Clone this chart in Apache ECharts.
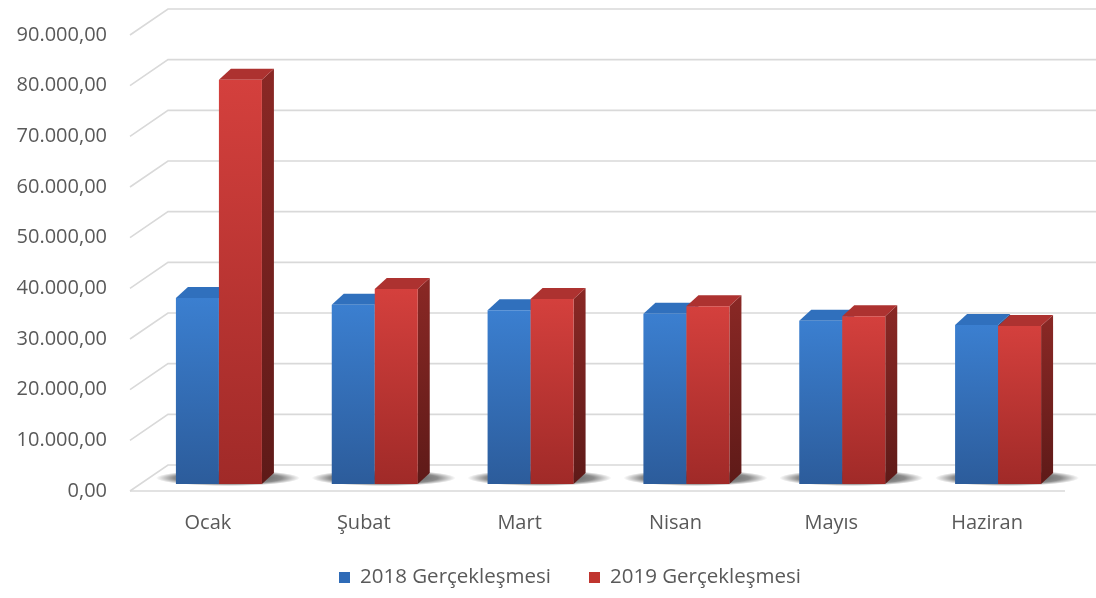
<!DOCTYPE html>
<html>
<head>
<meta charset="utf-8">
<script src="https://cdn.jsdelivr.net/npm/echarts@6/dist/echarts.min.js"></script>
<style>
  html, body { margin: 0; padding: 0; background: #fff; }
  #main { width: 1096px; height: 598px; }
</style>
</head>
<body>
<div id="main"></div>
<script>
var myChart = echarts.init(document.getElementById('main'));

var categories = ['Ocak', 'Şubat', 'Mart', 'Nisan', 'Mayıs', 'Haziran'];
var seriesNames = ['2018 Gerçekleşmesi', '2019 Gerçekleşmesi'];
var values2018 = [36700, 35400, 34300, 33600, 32200, 31400];
var values2019 = [79800, 38500, 36500, 35100, 33100, 31200];
var yTicks = [0, 10000, 20000, 30000, 40000, 50000, 60000, 70000, 80000, 90000];

// depth of the back wall and of the bar plane (pseudo 3D)
var WALL_DX = 38, WALL_DY = -26;
var BAR_DY = -7;
var DEPTH_DX = 12, DEPTH_DY = -11;
var BAR_W = 43;

function trNumber(v) {
    var s = String(Math.round(v));
    var out = '';
    for (var i = 0; i < s.length; i++) {
        if (i > 0 && (s.length - i) % 3 === 0) out += '.';
        out += s[i];
    }
    return out + ',00';
}

function vGrad(c1, c2) {
    return new echarts.graphic.LinearGradient(0, 0, 0, 1, [
        {offset: 0, color: c1},
        {offset: 1, color: c2}
    ]);
}

var palette = [
    {front: ['#3b7fd0', '#2c5c9b'], top: '#3070bd', side: ['#27528a', '#1d3f6c']},
    {front: ['#d4403d', '#a02a28'], top: '#ad3230', side: ['#8a2825', '#5e1a18']}
];

var gridRender = function (params, api) {
    var cs = params.coordSys;
    var y = api.coord([0, api.value(1)])[1];
    var left = cs.x, right = cs.x + cs.width;
    var children = [{
        type: 'polyline',
        shape: {points: [[left, y], [left + WALL_DX, y + WALL_DY], [right + WALL_DX, y + WALL_DY]]},
        style: {stroke: '#d9d9d9', lineWidth: 1.6, fill: null}
    }];
    if (api.value(1) === 0) {
        children.push({
            type: 'line',
            shape: {x1: left, y1: y, x2: right, y2: y},
            style: {stroke: '#d9d9d9', lineWidth: 1.6}
        });
    }
    return {type: 'group', children: children};
};

function barRender(idx) {
    return function (params, api) {
        var base = api.coord([api.value(0), 0]);
        var top = api.coord([api.value(0), api.value(1)]);
        var cx = base[0];
        var x0 = idx === 0 ? cx - 32 : cx + 11;
        var x1 = x0 + BAR_W;
        var yb = base[1] + BAR_DY;
        var yt = top[1] + BAR_DY;
        var p = palette[idx];
        var children = [];
        if (idx === 0) {
            // soft floor shadow behind the pair of bars
            children.push({
                type: 'circle',
                x: cx + 20,
                y: yb - 6,
                scaleX: 9,
                shape: {cx: 0, cy: 0, r: 8},
                style: {
                    fill: new echarts.graphic.RadialGradient(0.5, 0.5, 0.5, [
                        {offset: 0, color: 'rgba(0,0,0,0.8)'},
                        {offset: 0.75, color: 'rgba(0,0,0,0.45)'},
                        {offset: 1, color: 'rgba(0,0,0,0)'}
                    ])
                }
            });
        }
        children.push({
            type: 'polygon',
            shape: {points: [[x1, yt], [x1 + DEPTH_DX, yt + DEPTH_DY], [x1 + DEPTH_DX, yb + DEPTH_DY], [x1, yb]]},
            style: {fill: vGrad(p.side[0], p.side[1])}
        });
        children.push({
            type: 'polygon',
            shape: {points: [[x0, yt], [x0 + DEPTH_DX, yt + DEPTH_DY], [x1 + DEPTH_DX, yt + DEPTH_DY], [x1, yt]]},
            style: {fill: p.top}
        });
        children.push({
            type: 'rect',
            shape: {x: x0, y: yt, width: BAR_W, height: yb - yt},
            style: {fill: vGrad(p.front[0], p.front[1])}
        });
        return {type: 'group', children: children};
    };
}

option = {
    backgroundColor: '#ffffff',
    animation: false,
    textStyle: {fontFamily: 'Open Sans'},
    grid: {left: 130, right: 31, top: 35, bottom: 107},
    legend: {
        data: seriesNames,
        bottom: 5,
        left: 334,
        itemWidth: 11,
        itemHeight: 11,
        itemGap: 38,
        icon: 'rect',
        textStyle: {color: '#595959', fontSize: 20.5, fontFamily: 'Open Sans', padding: [0, 0, 0, 5]}
    },
    xAxis: {
        type: 'category',
        data: categories,
        axisLine: {show: false},
        axisTick: {show: false},
        axisLabel: {color: '#595959', fontSize: 20, margin: 22, fontFamily: 'Open Sans'}
    },
    yAxis: {
        type: 'value',
        min: 0,
        max: 90000,
        interval: 10000,
        splitLine: {show: false},
        axisLine: {show: false},
        axisTick: {show: false},
        axisLabel: {
            color: '#595959', fontSize: 20, margin: 23, fontFamily: 'Open Sans',
            formatter: trNumber
        }
    },
    series: [
        {
            name: 'grid',
            type: 'custom',
            renderItem: gridRender,
            data: yTicks.map(function (v) { return [0, v]; }),
            silent: true,
            z: 1
        },
        {
            name: seriesNames[0],
            type: 'custom',
            renderItem: barRender(0),
            itemStyle: {color: '#2f6bb7'},
            data: values2018.map(function (v, i) { return [i, v]; }),
            z: 2
        },
        {
            name: seriesNames[1],
            type: 'custom',
            renderItem: barRender(1),
            itemStyle: {color: '#c0352f'},
            data: values2019.map(function (v, i) { return [i, v]; }),
            z: 3
        }
    ]
};

myChart.setOption(option);
</script>
</body>
</html>
